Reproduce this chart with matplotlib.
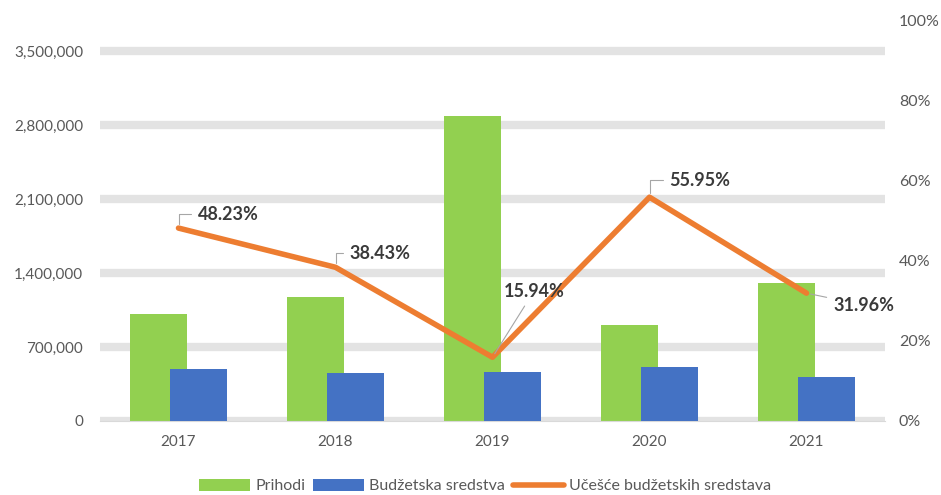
import matplotlib
matplotlib.use("Agg")
import matplotlib.pyplot as plt
import numpy as np
from matplotlib.ticker import FuncFormatter, PercentFormatter

years = ["2017", "2018", "2019", "2020", "2021"]
prihodi = [1015000, 1173000, 2885000, 905000, 1302000]
budzet = [489500, 450800, 459900, 506300, 416100]
ucesce = [48.23, 38.43, 15.94, 55.95, 31.96]

# label offsets (pixels) relative to each line point, and leader style
label_off = [(19, 14), (14, 14), (11, 66), (20, 17), (27, -12)]
leader = ['angle,angleA=0,angleB=90', 'angle,angleA=0,angleB=90', 'arc3',
          'angle,angleA=0,angleB=90', 'arc3']

plt.rcParams['font.family'] = ['Lato', 'DejaVu Sans']

fig = plt.figure(figsize=(9.41, 4.95), dpi=100)
ax = fig.add_axes([100 / 941, 74 / 495, 785 / 941, 400 / 495])
ax2 = ax.twinx()

x = np.arange(len(years))
w = 0.362
off = 0.127
ax.bar(x - off, prihodi, w, color='#92d050', zorder=2, label='Prihodi')
ax.bar(x + off, budzet, w, color='#4472c4', zorder=3, label='Budžetska sredstva')

ax.set_xlim(-0.5, len(years) - 0.5)
ax.set_ylim(0, 3500000 * 400 / 370)
ax.set_yticks(np.arange(0, 3500001, 700000))
ax.yaxis.set_major_formatter(FuncFormatter(lambda v, p: f"{int(v):,}"))
ax.grid(axis='y', color='#e3e3e3', lw=6, zorder=0)
ax.set_axisbelow(True)
ax.set_xticks(x)
ax.set_xticklabels(years)
ax.tick_params(length=0, labelsize=11, colors='#595959')
ax.tick_params(axis='y', pad=12)
ax.tick_params(axis='x', pad=10)
for s in ['top', 'right', 'left']:
    ax.spines[s].set_visible(False)
ax.spines['bottom'].set_color('#d9d9d9')

ln, = ax2.plot(x, ucesce, color='#ed7d31', lw=4, zorder=4,
               label='Učešće budžetskih sredstava', solid_capstyle='round')
ax2.set_ylim(0, 100)
ax2.set_yticks(np.arange(0, 101, 20))
ax2.yaxis.set_major_formatter(PercentFormatter(decimals=0))
ax2.tick_params(length=0, labelsize=11.5, colors='#595959', pad=10)
for s in ax2.spines.values():
    s.set_visible(False)

for i, v in enumerate(ucesce):
    dx, dy = label_off[i]
    ax2.annotate(f"{v:.2f}%", (x[i], v), xytext=(dx, dy), textcoords='offset pixels',
                 ha='left', va='center', fontsize=13, fontweight='bold', color='#3a3a3a',
                 arrowprops=dict(arrowstyle='-', color='#a6a6a6', lw=0.8,
                                 connectionstyle=leader[i], shrinkA=3, shrinkB=3), zorder=5)

h1, l1 = ax.get_legend_handles_labels()
fig.legend(h1 + [ln], l1 + [ln.get_label()], loc='center', bbox_to_anchor=(485 / 941, 9 / 495),
           ncol=3, frameon=False, fontsize=11.5, handlelength=3.2, handleheight=0.8,
           handletextpad=0.3, columnspacing=0.5, labelcolor='#595959')

fig.savefig("out.png", dpi=100)
